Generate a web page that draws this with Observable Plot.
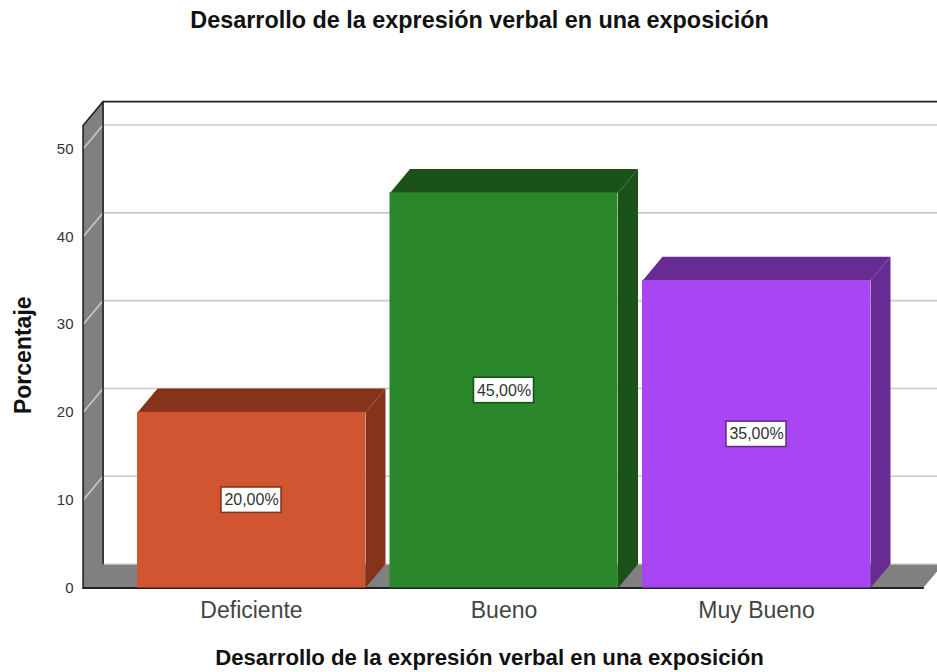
<!DOCTYPE html>
<html>
<head>
<meta charset="utf-8">
<script src="https://cdn.jsdelivr.net/npm/d3@7"></script>
<script src="https://cdn.jsdelivr.net/npm/@observablehq/plot@0.6"></script>
<style>
html,body{margin:0;padding:0;background:#fff}
svg{display:block}
</style>
</head>
<body>
<div id="chart"></div>
<script>
const categories = ["Deficiente", "Bueno", "Muy Bueno"];
const percentages = [20, 45, 35];
const labels = ["20,00%", "45,00%", "35,00%"];
const frontColors = ["#d15530", "#2b872b", "#a846f3"];
const sideColors = ["#86331c", "#1b5218", "#672c94"];
const yTicks = [0, 10, 20, 30, 40, 50];
const chartTitle = "Desarrollo de la expresión verbal en una exposición";
const yTitle = "Porcentaje";

// 3D extrusion and extent, in scale units
const depthX = 0.0792, depthY = 2.73;
const halfBar = 0.4515;
const wallX = -0.667, floorEndX = 2.66, topY = 52.67;
const labelHalfW = 0.119, labelHalfH = 1.45;

const poly = (pts, opts) => Plot.line([...pts, pts[0]], {x: d => d[0], y: d => d[1], ...opts});
const seg = (pts, opts) => Plot.line(pts, {x: d => d[0], y: d => d[1], ...opts});
const ids = categories.map((_, i) => i);

const wallFill = "#808080";
const marks = [
  // left wall and floor
  poly([[wallX, 0], [wallX + depthX, depthY], [wallX + depthX, topY + depthY], [wallX, topY]], {fill: wallFill, stroke: "none"}),
  poly([[wallX, 0], [floorEndX, 0], [floorEndX + depthX, depthY], [wallX + depthX, depthY]], {fill: wallFill, stroke: "none"}),
  // gridlines on the back wall and their diagonals on the left wall
  ...yTicks.slice(1).map(t => seg([[wallX, t], [wallX + depthX, t + depthY], [floorEndX + depthX, t + depthY]], {stroke: "#c9c9c9", strokeWidth: 1.6})),
  // frame edges
  seg([[wallX + depthX, 0 + depthY], [floorEndX + depthX, 0 + depthY]], {stroke: "#c9c9c9", strokeWidth: 1.2}),
  seg([[wallX, 0], [wallX, topY], [wallX + depthX, topY + depthY], [floorEndX + depthX, topY + depthY]], {stroke: "#222", strokeWidth: 1.6}),
  seg([[wallX + depthX, depthY], [wallX + depthX, topY + depthY]], {stroke: "#222", strokeWidth: 1.6}),
  seg([[wallX, 0], [wallX + depthX, depthY]], {stroke: "#6e6e6e", strokeWidth: 1}),
  seg([[wallX, 0], [floorEndX, 0]], {stroke: "#222", strokeWidth: 1.8}),
  // bars: top and side faces, then fronts
  ...ids.flatMap(i => {
    const a = i - halfBar, b = i + halfBar, v = percentages[i];
    return [
      poly([[a, v], [b, v], [b + depthX, v + depthY], [a + depthX, v + depthY]], {fill: sideColors[i], stroke: "none"}),
      poly([[b, 0], [b + depthX, depthY], [b + depthX, v + depthY], [b, v]], {fill: sideColors[i], stroke: "none"})
    ];
  }),
  Plot.rectY(ids, {
    x1: i => i - halfBar, x2: i => i + halfBar,
    y1: 0, y2: i => percentages[i],
    fill: i => frontColors[i]
  }),
  // value labels
  Plot.rect(ids, {
    x1: i => i - labelHalfW, x2: i => i + labelHalfW,
    y1: i => percentages[i] / 2 - labelHalfH, y2: i => percentages[i] / 2 + labelHalfH,
    fill: "#fff", stroke: i => sideColors[i], strokeWidth: 1.6
  }),
  Plot.text(ids, {
    x: i => i, y: i => percentages[i] / 2, text: i => labels[i],
    fontSize: 16, fill: "#333", fontFamily: "Liberation Sans"
  }),
  // axes
  Plot.axisY({ticks: yTicks, tickSize: 0, tickPadding: 9, fontSize: 15, label: null, color: "#333", fontFamily: "Liberation Sans"}),
  Plot.axisX({ticks: [0, 1, 2], tickFormat: i => categories[i], tickSize: 0, tickPadding: 14, fontSize: 23, label: null, color: "#444", fontFamily: "Liberation Sans"}),
  // titles
  Plot.text([chartTitle], {text: d => d, frameAnchor: "top", textAnchor: "middle", dx: -30.5, dy: 11, fontSize: 23.4, fontWeight: "bold", fill: "#111", fontFamily: "Liberation Sans"}),
  Plot.text([chartTitle], {text: d => d, frameAnchor: "bottom", textAnchor: "middle", dx: -20.5, dy: 77, fontSize: 22.2, fontWeight: "bold", fill: "#111", fontFamily: "Liberation Sans"}),
  Plot.text([yTitle], {text: d => d, frameAnchor: "left", textAnchor: "middle", rotate: -90, dx: -59, dy: 61, fontSize: 23, fontWeight: "bold", fill: "#111", fontFamily: "Liberation Sans"})
];

const chart = Plot.plot({
  width: 937,
  height: 672,
  marginLeft: 82,
  marginRight: 0,
  marginTop: 0,
  marginBottom: 84.5,
  x: {domain: [0, 2], range: [251, 756], axis: null},
  y: {domain: [0, 50], range: [587.5, 148.5], axis: null},
  color: {type: "identity"},
  style: {background: "#fff", overflow: "hidden"},
  marks
});
document.getElementById("chart").append(chart);
</script>
</body>
</html>
